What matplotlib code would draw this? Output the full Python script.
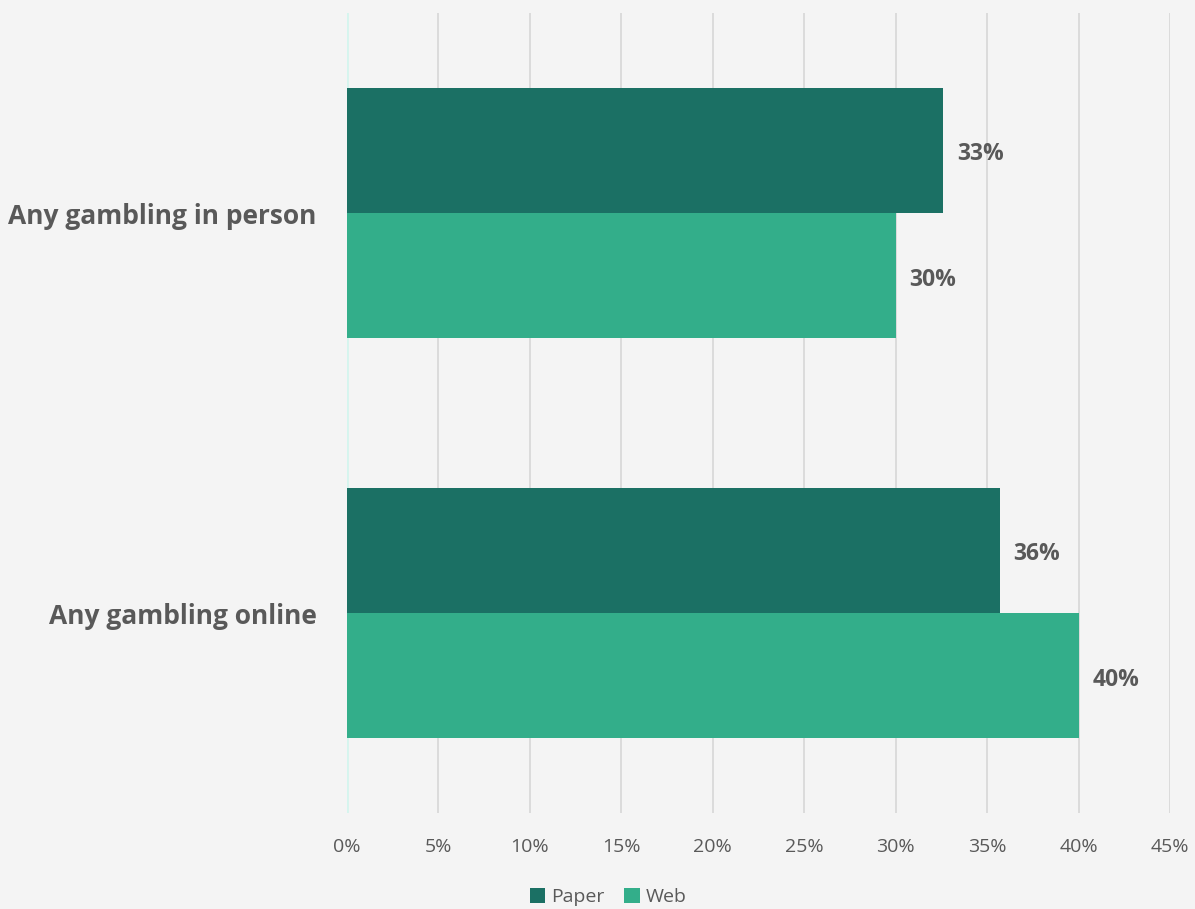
import matplotlib
matplotlib.use("Agg")
import matplotlib.pyplot as plt
import numpy as np

categories = ["Any gambling in person", "Any gambling online"]
series_names = ["Paper", "Web"]
paper_values = [32.6, 35.7]
web_values = [30.0, 40.0]
x_ticks = [0, 5, 10, 15, 20, 25, 30, 35, 40, 45]

bg = "#F4F4F4"
paper_color = "#1B7064"
web_color = "#33AE8A"
text_color = "#595959"

plt.rcParams["font.family"] = ["Open Sans", "DejaVu Sans"]

fig = plt.figure(figsize=(11.95, 9.09), dpi=100, facecolor=bg)
ax = fig.add_axes([347 / 1195, 1 - 813 / 909, (1170 - 347) / 1195, 800 / 909])
ax.set_facecolor(bg)

y = np.arange(len(categories))
h = 0.3125
bars_p = ax.barh(y - h / 2, paper_values, height=h, color=paper_color, label=series_names[0], zorder=3)
bars_w = ax.barh(y + h / 2, web_values, height=h, color=web_color, label=series_names[1], zorder=3)

for bars, vals in ((bars_p, paper_values), (bars_w, web_values)):
    for b, v in zip(bars, vals):
        ax.text(v + 0.75, b.get_y() + b.get_height() / 2 + 0.01, f"{v:.0f}%",
                va="center", ha="left", fontsize=16.5, fontweight="bold", color=text_color)

ax.set_xlim(0, 45)
ax.set_ylim(1.5, -0.5)
ax.set_xticks(x_ticks)
ax.set_xticklabels([f"{t}%" for t in x_ticks], fontsize=14, color=text_color)
ax.set_yticks(y)
ax.set_yticklabels(categories, fontsize=19, fontweight="bold", color=text_color)
ax.tick_params(axis="both", length=0)
ax.tick_params(axis="x", pad=18)
ax.tick_params(axis="y", pad=22)

ax.grid(axis="x", color="#D9D9D9", linewidth=1.3, zorder=0)
for s in ax.spines.values():
    s.set_visible(False)
ax.axvline(0, color="#D5F5EE", linewidth=2, zorder=2)

leg = fig.legend(handles=[bars_p, bars_w], labels=series_names, loc="center",
                 bbox_to_anchor=(608 / 1195, 1 - 897 / 909), ncol=2, frameon=False,
                 fontsize=14, handlelength=0.8, handleheight=0.8, handletextpad=0.3,
                 columnspacing=1.0)
for t in leg.get_texts():
    t.set_color(text_color)

fig.savefig("out.png", dpi=100, facecolor=bg)
